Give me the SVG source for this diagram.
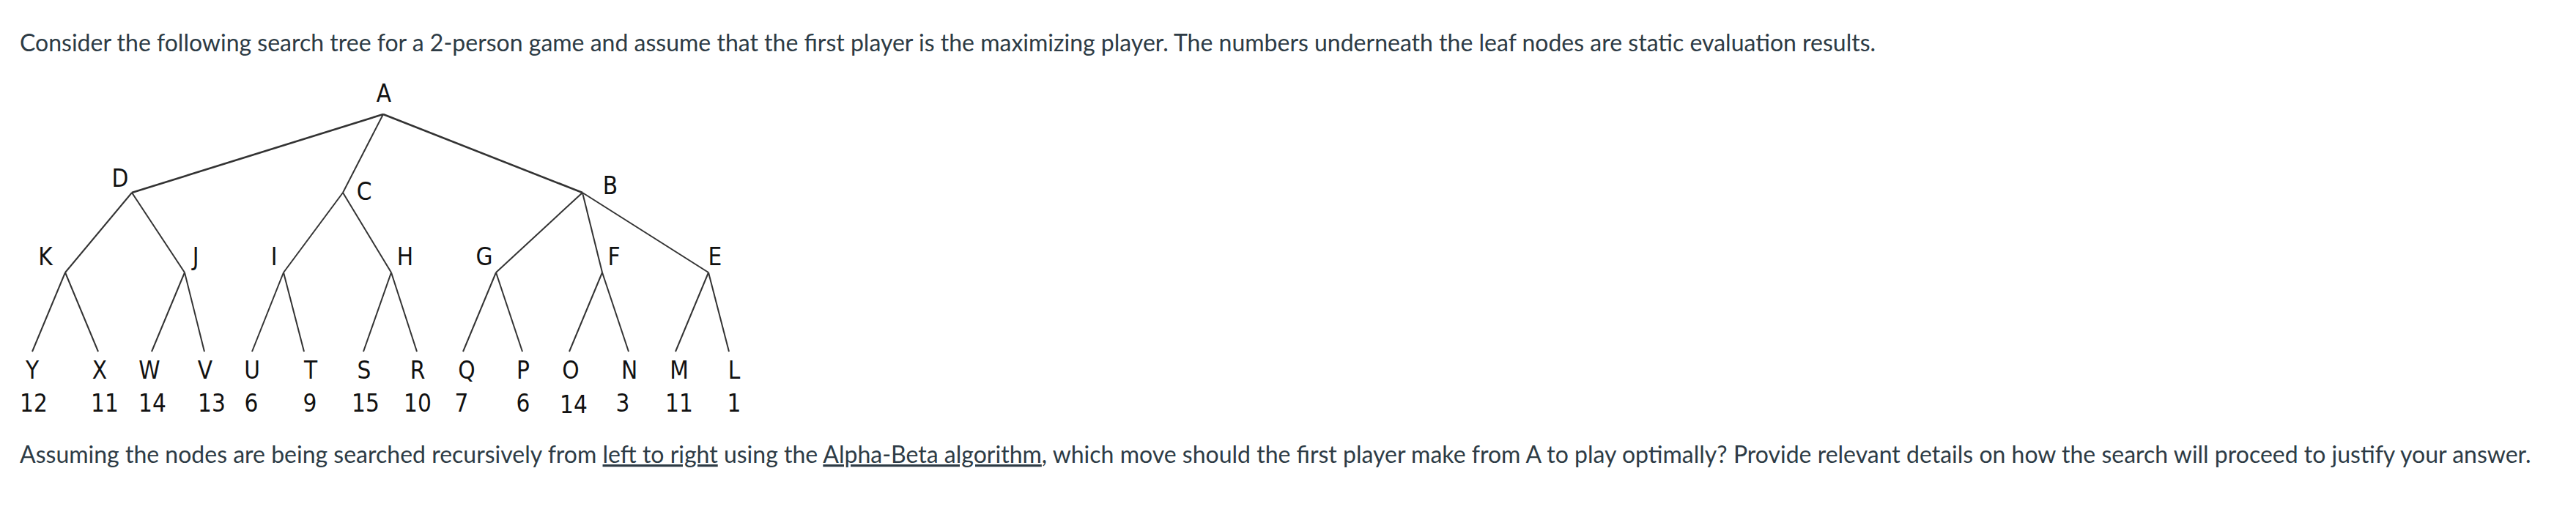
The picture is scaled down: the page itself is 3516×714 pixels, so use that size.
<svg xmlns="http://www.w3.org/2000/svg" width="3516" height="714" viewBox="0 0 3516 714">
<style>
.body{font-family:Lato,"Liberation Sans",sans-serif;font-size:32px;fill:#2d3b45}
.lbl{font-family:"DejaVu Sans Condensed","DejaVu Sans",sans-serif;font-size:33px;fill:#111;text-anchor:middle}
.edge{stroke:#333;stroke-width:2;fill:none}
.top{stroke-width:2.6}
</style>
<rect width="3516" height="714" fill="#fff"/>
<text class="body" x="27" y="70">Consider the following search tree for a 2-person game and assume that the first player is the maximizing player. The numbers underneath the leaf nodes are static evaluation results.</text>
<g id="connectors">
<line class="edge top" x1="523" y1="156" x2="180" y2="263"/>
<line class="edge" x1="523" y1="156" x2="468" y2="263"/>
<line class="edge top" x1="523" y1="156" x2="795" y2="263"/>
<line class="edge" x1="180" y1="263" x2="89" y2="372"/>
<line class="edge" x1="180" y1="263" x2="252" y2="372"/>
<line class="edge" x1="468" y1="263" x2="387" y2="372"/>
<line class="edge" x1="468" y1="263" x2="534" y2="372"/>
<line class="edge" x1="795" y1="263" x2="677" y2="372"/>
<line class="edge" x1="795" y1="263" x2="822" y2="372"/>
<line class="edge" x1="795" y1="263" x2="967" y2="372"/>
<line class="edge" x1="89" y1="372" x2="44" y2="480"/>
<line class="edge" x1="89" y1="372" x2="134" y2="480"/>
<line class="edge" x1="252" y1="372" x2="207" y2="480"/>
<line class="edge" x1="252" y1="372" x2="279" y2="480"/>
<line class="edge" x1="387" y1="372" x2="344" y2="480"/>
<line class="edge" x1="387" y1="372" x2="415" y2="480"/>
<line class="edge" x1="534" y1="372" x2="496" y2="480"/>
<line class="edge" x1="534" y1="372" x2="569" y2="480"/>
<line class="edge" x1="677" y1="372" x2="632" y2="480"/>
<line class="edge" x1="677" y1="372" x2="713" y2="480"/>
<line class="edge" x1="822" y1="372" x2="777" y2="480"/>
<line class="edge" x1="822" y1="372" x2="858" y2="480"/>
<line class="edge" x1="967" y1="372" x2="922" y2="480"/>
<line class="edge" x1="967" y1="372" x2="995" y2="480"/>
</g>
<g id="node-A"><text class="lbl" x="524" y="139">A</text></g>
<g id="node-D"><text class="lbl" x="164" y="255">D</text></g>
<g id="node-C"><text class="lbl" x="497" y="273">C</text></g>
<g id="node-B"><text class="lbl" x="833" y="265">B</text></g>
<g id="node-K"><text class="lbl" x="62" y="362">K</text></g>
<g id="node-J"><text class="lbl" x="267" y="362">J</text></g>
<g id="node-I"><text class="lbl" x="374" y="362">I</text></g>
<g id="node-H"><text class="lbl" x="553" y="362">H</text></g>
<g id="node-G"><text class="lbl" x="661" y="362">G</text></g>
<g id="node-F"><text class="lbl" x="838" y="362">F</text></g>
<g id="node-E"><text class="lbl" x="976" y="362">E</text></g>
<g id="node-Y"><text class="lbl" x="44" y="517">Y</text><text class="lbl" x="46" y="562">12</text></g>
<g id="node-X"><text class="lbl" x="136" y="517">X</text><text class="lbl" x="143" y="562">11</text></g>
<g id="node-W"><text class="lbl" x="204" y="517">W</text><text class="lbl" x="208" y="562">14</text></g>
<g id="node-V"><text class="lbl" x="280" y="517">V</text><text class="lbl" x="289" y="562">13</text></g>
<g id="node-U"><text class="lbl" x="344" y="517">U</text><text class="lbl" x="343" y="562">6</text></g>
<g id="node-T"><text class="lbl" x="424" y="517">T</text><text class="lbl" x="423" y="562">9</text></g>
<g id="node-S"><text class="lbl" x="497" y="517">S</text><text class="lbl" x="499" y="562">15</text></g>
<g id="node-R"><text class="lbl" x="570" y="517">R</text><text class="lbl" x="570" y="562">10</text></g>
<g id="node-Q"><text class="lbl" x="637" y="517">Q</text><text class="lbl" x="630" y="562">7</text></g>
<g id="node-P"><text class="lbl" x="714" y="517">P</text><text class="lbl" x="714" y="562">6</text></g>
<g id="node-O"><text class="lbl" x="779" y="517">O</text><text class="lbl" x="783" y="564">14</text></g>
<g id="node-N"><text class="lbl" x="859" y="517">N</text><text class="lbl" x="850" y="562">3</text></g>
<g id="node-M"><text class="lbl" x="927" y="517">M</text><text class="lbl" x="927" y="562">11</text></g>
<g id="node-L"><text class="lbl" x="1002" y="517">L</text><text class="lbl" x="1002" y="562">1</text></g>
<text class="body" x="27" y="632">Assuming the nodes are being searched recursively from <tspan text-decoration="underline">left to right</tspan> using the <tspan text-decoration="underline">Alpha-Beta algorithm</tspan>, which move should the first player make from A to play optimally? Provide relevant details on how the search will proceed to justify your answer.</text>
</svg>
